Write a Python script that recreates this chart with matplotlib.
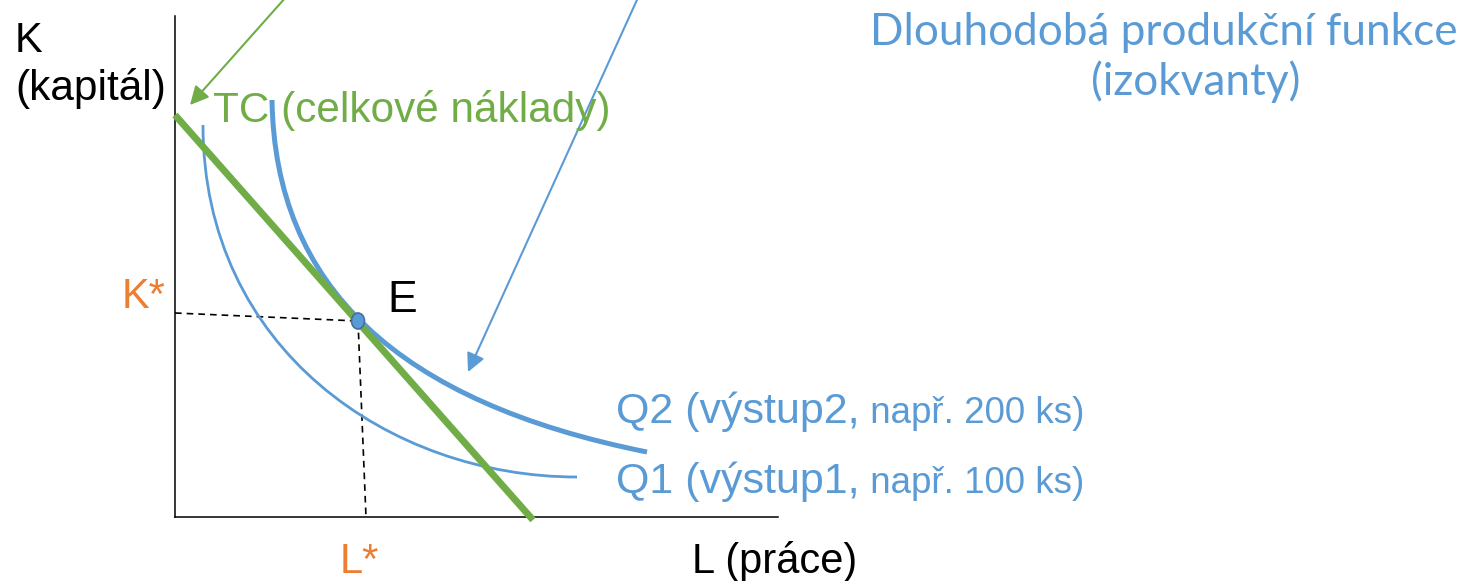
import numpy as np
import matplotlib
matplotlib.use("Agg")
import matplotlib.pyplot as plt
from matplotlib.path import Path
from matplotlib.patches import PathPatch, Ellipse

# isokvanty (Bezier: start, 2 ridici body, konec) v jednotkach (L, K)
q1_L = [0.28, 0.28, 2.15, 4.02]
q1_K = [3.92, 1.68, 0.40, 0.40]
q2_L = [0.97, 1.00, 2.22, 4.72]
q2_K = [4.17, 2.31, 1.15, 0.65]

# izokosta TC
tc_L = [0.0, 3.58]
tc_K = [4.02, -0.03]

# optimum E
e_L, e_K = 1.83, 1.96
k_star_K = 2.04   # kde prerusovana cara zacina na ose K
l_star_L = 1.91   # kde prerusovana cara konci na ose L

BLUE = "#5B9BD5"
GREEN = "#70AD47"
ORANGE = "#ED7D31"
SANS = ["Liberation Sans", "DejaVu Sans"]


def bezier(ax, xs, ys, **kw):
    verts = list(zip(xs, ys))
    codes = [Path.MOVETO, Path.CURVE4, Path.CURVE4, Path.CURVE4]
    ax.add_patch(PathPatch(Path(verts, codes), fill=False, clip_on=False, **kw))


def main():
    W, H = 1467, 581
    fig = plt.figure(figsize=(W / 100, H / 100), dpi=100)
    ax = fig.add_axes([175 / W, 64 / H, 603 / W, 501 / H])
    ax.set_xlim(0, 6.03)
    ax.set_ylim(0, 5.01)
    ax.set_xticks([])
    ax.set_yticks([])
    for s in ["top", "right"]:
        ax.spines[s].set_visible(False)
    for s in ["left", "bottom"]:
        ax.spines[s].set_linewidth(1.1)
    ax.patch.set_visible(False)

    bezier(ax, q1_L, q1_K, edgecolor=BLUE, linewidth=2.0, zorder=3)
    bezier(ax, q2_L, q2_K, edgecolor=BLUE, linewidth=3.6, zorder=3)

    ax.plot(tc_L, tc_K, color=GREEN, linewidth=5, solid_capstyle="butt",
            clip_on=False, zorder=4)

    ax.plot([0, e_L], [k_star_K, e_K], "k--", linewidth=1.2, dashes=(4, 3), zorder=2)
    ax.plot([e_L, l_star_L], [e_K, 0], "k--", linewidth=1.2, dashes=(4, 3), zorder=2,
            clip_on=False)

    ax.add_patch(Ellipse((e_L, e_K), 0.13, 0.16, facecolor=BLUE,
                         edgecolor="#41719C", linewidth=1.2, zorder=5))

    # sipky
    ax.annotate("", xy=(0.15, 4.12), xytext=(1.27, 5.38),
                arrowprops=dict(arrowstyle="-|>", color=GREEN, lw=1.5,
                                mutation_scale=28, shrinkA=0, shrinkB=0),
                annotation_clip=False)
    ax.annotate("", xy=(2.93, 1.45), xytext=(4.71, 5.37),
                arrowprops=dict(arrowstyle="-|>", color=BLUE, lw=1.5,
                                mutation_scale=28, shrinkA=0, shrinkB=0),
                annotation_clip=False)

    tkw = dict(family=SANS, clip_on=False, va="baseline")
    ax.text(-1.60, 4.65, "K", fontsize=30, color="black", **tkw)
    ax.text(-1.60, 4.17, "(kapitál)", fontsize=30.5, color="black", **tkw)
    ax.text(0.38, 3.95, "TC (celkové náklady)", fontsize=30.4, color=GREEN, **tkw)
    ax.text(-0.10, 2.09, "K*", fontsize=30, color=ORANGE, ha="right", **tkw)
    ax.text(2.12, 2.05, "E", fontsize=32, color="black", **tkw)
    ax.text(1.65, -0.56, "L*", fontsize=30, color=ORANGE, **tkw)
    ax.text(5.17, -0.56, "L (práce)", fontsize=30, color="black", **tkw)

    ax.text(9.89, 4.72, "Dlouhodobá produkční funkce", fontsize=31.8, color=BLUE,
            family=["Lato", "DejaVu Sans"], ha="center", va="baseline", clip_on=False)
    ax.text(10.21, 4.22, "(izokvanty)", fontsize=31.8, color=BLUE,
            family=["Lato", "DejaVu Sans"], ha="center", va="baseline", clip_on=False)

    fig.canvas.draw()
    r = fig.canvas.get_renderer()
    inv = ax.transData.inverted()
    for big, small, y in [("Q2 (výstup2,", " např. 200 ks)", 0.94),
                          ("Q1 (výstup1,", " např. 100 ks)", 0.24)]:
        t = ax.text(4.41, y, big, fontsize=31, color=BLUE, **tkw)
        bb = t.get_window_extent(renderer=r)
        x1 = inv.transform((bb.x1, bb.y0))[0]
        ax.text(x1, y, small, fontsize=26.5, color=BLUE, **tkw)

    fig.savefig("out.png", dpi=100, facecolor="white")


if __name__ == "__main__":
    main()
